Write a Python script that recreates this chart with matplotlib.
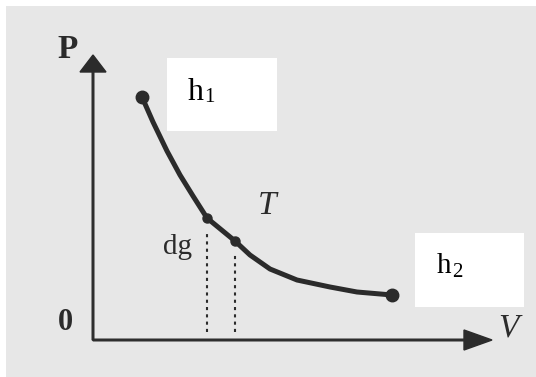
import matplotlib.pyplot as plt
from matplotlib.patches import Rectangle

# P-V curve (origin at the axis corner, 1 unit = 1 px)
curve_v = [49, 60, 74, 87, 100, 114, 142, 157, 177, 204, 237, 264, 299]
curve_p = [243, 218, 189, 165, 144, 122, 99, 85, 71, 60, 53, 48, 45]
strip_idx = [5, 6]          # the two points bounding the strip dg
end_idx = [0, len(curve_v) - 1]
strip_tops = [110, 85]

ink = "#2b2b2b"
serif = "Liberation Serif"

fig = plt.figure(figsize=(5.36, 3.77), dpi=100, facecolor="white")
ax = fig.add_axes([0, 0, 1, 1])
ax.set_xlim(-93, 443)
ax.set_ylim(-37, 340)
ax.axis("off")

# scanned paper background
ax.add_patch(Rectangle((-87, -37), 530, 371, facecolor="#e7e7e7", edgecolor="none", zorder=0))

# axes with arrow heads
ax.arrow(0, 0, 0, 285, width=1.6, head_width=26, head_length=17,
         length_includes_head=True, color=ink, zorder=2)
ax.arrow(0, 0, 399, 0, width=1.6, head_width=20, head_length=28,
         length_includes_head=True, color=ink, zorder=2)

# curve
ax.plot(curve_v, curve_p, color=ink, lw=3.6, solid_capstyle="round",
        solid_joinstyle="round", zorder=3)
ax.plot([curve_v[i] for i in end_idx], [curve_p[i] for i in end_idx], "o",
        color=ink, ms=9, zorder=4)
ax.plot([curve_v[i] for i in strip_idx], [curve_p[i] for i in strip_idx], "o",
        color=ink, ms=6.5, zorder=4)

# dotted strip
for i, top in zip(strip_idx, strip_tops):
    ax.vlines(curve_v[i], 8, top, colors=ink, lw=1.5, linestyles=(0, (1.5, 2)), zorder=2)

# labels
ax.text(-25, 290, "P", family=serif, weight="bold", fontsize=24, color=ink,
        ha="center", va="center")
ax.text(-28, 17, "0", family=serif, weight="bold", fontsize=22, color=ink,
        ha="center", va="center")
ax.text(415, 12, "V", family=serif, style="italic", fontsize=24, color=ink,
        ha="center", va="center")
ax.text(174, 134, "T", family=serif, style="italic", fontsize=24, color=ink,
        ha="center", va="center")
ax.text(84, 93, "dg", family=serif, fontsize=21, color=ink,
        ha="center", va="center")

# white label boxes
ax.add_patch(Rectangle((74, 209), 110, 73, facecolor="white", edgecolor="none", zorder=5))
ax.add_patch(Rectangle((322, 33), 109, 74, facecolor="white", edgecolor="none", zorder=5))
ax.text(95, 240, "h", family=serif, fontsize=23, color="black", va="baseline", zorder=6)
ax.text(111, 238, "1", family=serif, fontsize=15, color="black", va="baseline", zorder=6)
ax.text(344, 67, "h", family=serif, fontsize=21, color="black", va="baseline", zorder=6)
ax.text(359, 63, "2", family=serif, fontsize=15, color="black", va="baseline", zorder=6)

fig.savefig("out.png", dpi=100, facecolor="white")
